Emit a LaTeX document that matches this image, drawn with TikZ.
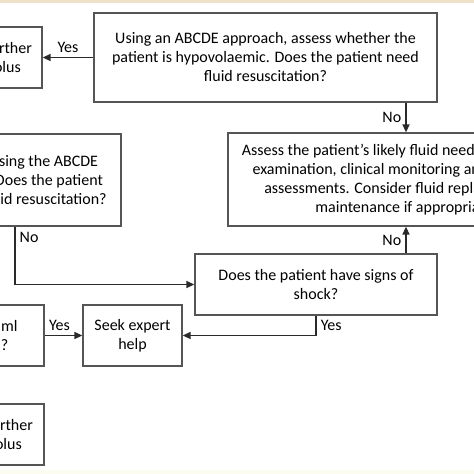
\documentclass[tikz,border=0pt]{standalone}
\usepackage{fontspec}
\setmainfont{Carlito}
\usetikzlibrary{positioning,arrows.meta}
\definecolor{linegray}{HTML}{2A2A2A}
\definecolor{boxgray}{HTML}{555555}
\definecolor{stripbeige}{HTML}{EFE2C9}
\definecolor{stripcream}{HTML}{FDFCF0}

\begin{document}
\begin{tikzpicture}[
		x=1pt, y=-1pt,
		box/.style={
			draw=boxgray,
			line width=1.3pt,
			align=center,
			inner sep=0pt,
			text=black,
			font=\fontsize{16}{19}\selectfont
		},
		flow/.style={
			draw=linegray,
			line width=1.5pt,
			-{Triangle[length=8pt,width=7pt]}
		},
		lbl/.style={
			inner sep=4pt,
			text=black,
			font=\fontsize{16}{19}\selectfont
		}
		]
		
		\clip (0,0) rectangle (474,474);
		\fill[white] (0,0) rectangle (474,474);
		\fill[stripbeige] (0,0) rectangle (474,2.5);
		\fill[stripcream] (0,470) rectangle (474,474);
		
		\node (assessq) [box, minimum width=343pt, minimum height=89pt] at (265.5,57.5)
		{Using an ABCDE approach, assess whether the\\ patient is hypovolaemic. Does the patient need\\ fluid resuscitation?};
		
		\node (bolustop) [box, minimum width=110pt, minimum height=61pt] at (-13,57.5)
		{Give a further\\ fluid bolus};
		
		\node (fluidneeds) [box, minimum width=356pt, minimum height=93pt] at (406,179.5)
		{Assess the patient’s likely fluid needs using history,\\ examination, clinical monitoring and laboratory\\ assessments. Consider fluid replacement or\\ maintenance if appropriate.};
		
		\node (reassess) [box, minimum width=214pt, minimum height=92pt] at (14,180)
		{Reassess using the ABCDE\\ approach. Does the patient\\ still need fluid resuscitation?};
		
		\node (shock) [box, minimum width=242pt, minimum height=61pt] at (316,284.5)
		{Does the patient have signs of\\ shock?};
		
		\node (expert) [box, minimum width=99pt, minimum height=61pt] at (132.5,335.5)
		{Seek expert\\ help};
		
		\node (volume) [box, minimum width=267pt, minimum height=61pt] at (-89.5,335.5)
		{Has the patient received 2000 ml\\ or more of fluid resuscitation?};
		
		\node (bolusbottom) [box, minimum width=112pt, minimum height=61pt] at (-12,434.5)
		{Give a further\\ fluid bolus};
		
		\coordinate (noturn) at (15,0);
		
		\draw[flow] (assessq) -- node[lbl, above] {Yes} (bolustop);
		\draw[flow] (fluidneeds.north |- assessq.south) -- node[lbl, left] {No} (fluidneeds.north);
		\draw[flow] (fluidneeds.south |- shock.north) -- node[lbl, left] {No} (fluidneeds.south);
		\draw[flow] (reassess.south -| noturn) |- node[lbl, pos=0.09, right] {No} (shock.west);
		\draw[flow] (shock.south) |- node[lbl, pos=0.25, right] {Yes} (expert.east);
		\draw[flow] (volume) -- node[lbl, above, xshift=-4pt] {Yes} (expert);
		
	\end{tikzpicture}
\end{document}
